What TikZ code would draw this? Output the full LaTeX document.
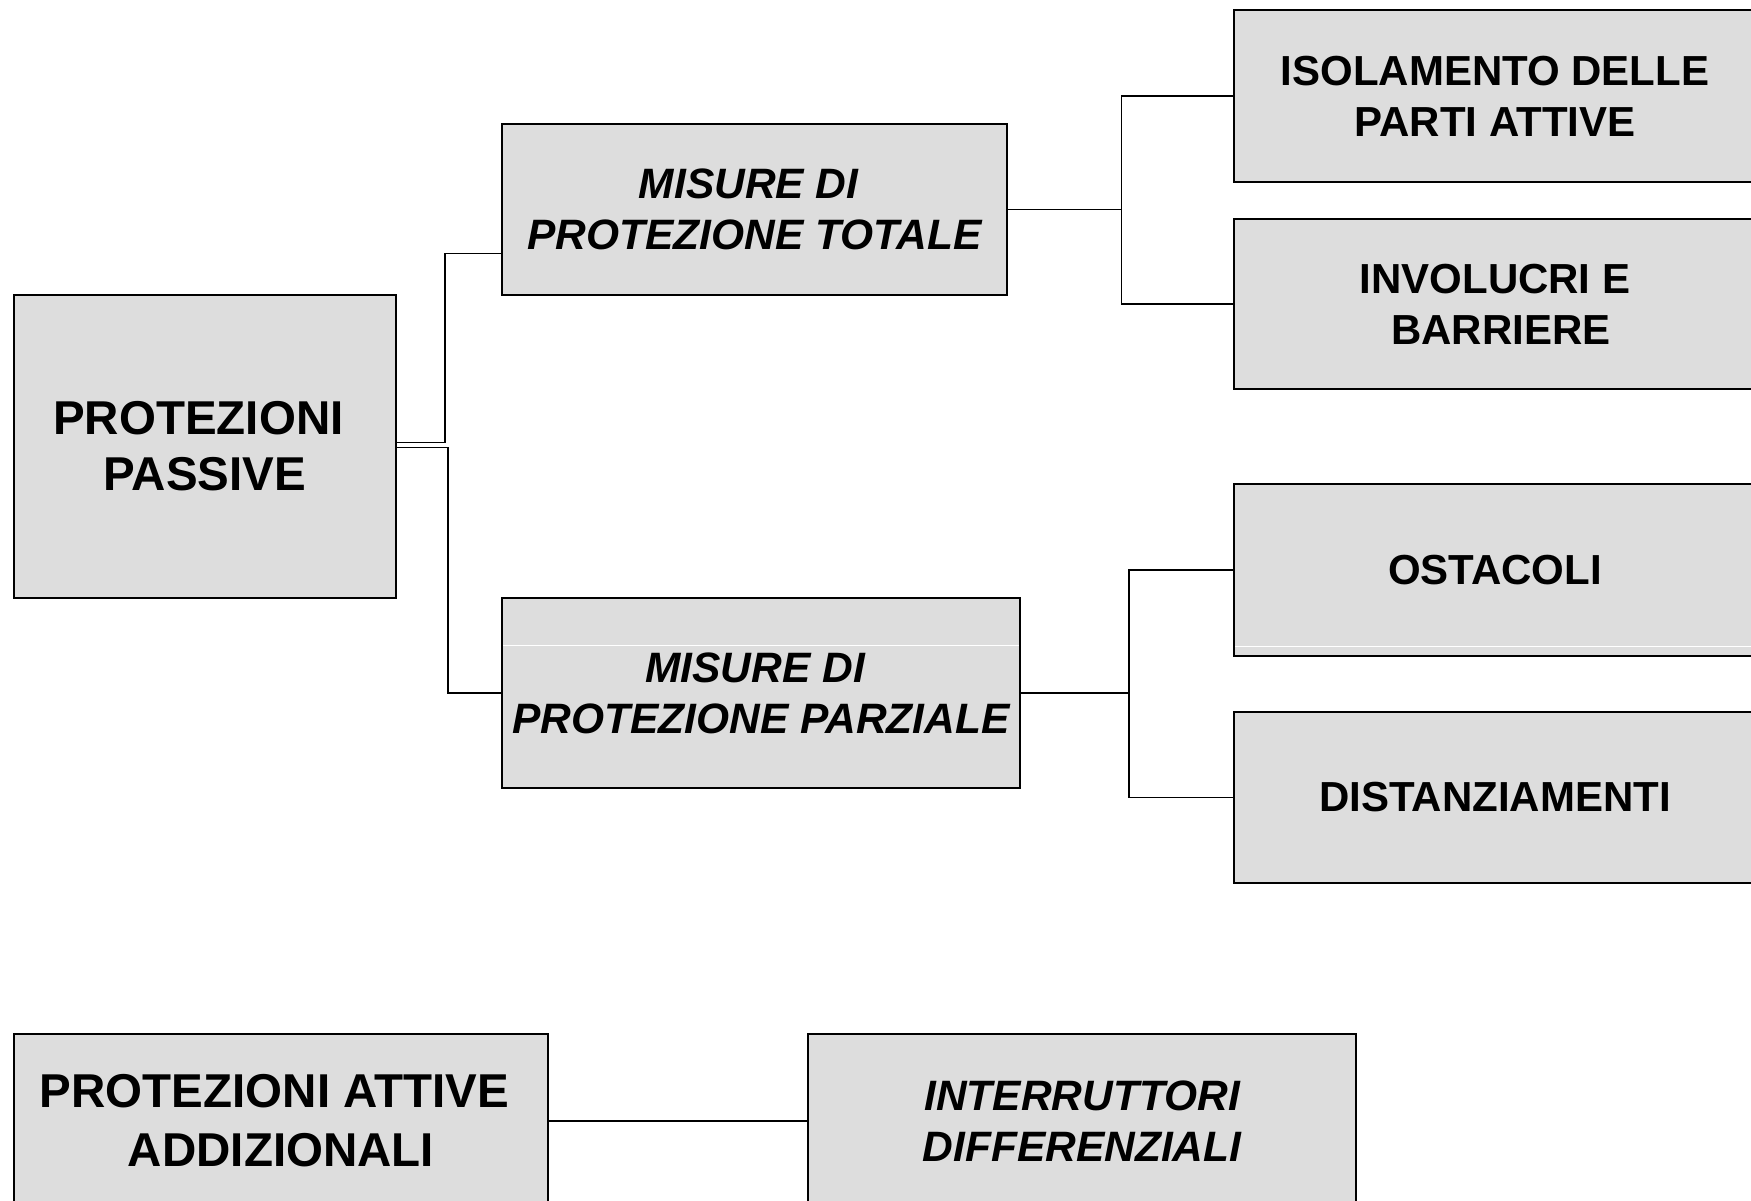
\documentclass[tikz,border=0pt]{standalone}
\usepackage{fontspec}
\setmainfont{Liberation Sans}
\usetikzlibrary{calc}
\definecolor{boxfill}{RGB}{221,221,221}
\newcommand{\tsp}{\hspace*{0.278em}}
\tikzset{
  box/.style={draw=black, line width=2pt, fill=boxfill, inner sep=0pt,
    anchor=north west, align=center, font=\bfseries},
  big/.style={font=\fontsize{47.5}{56}\selectfont\bfseries},
  mid/.style={font=\fontsize{42.5}{51}\selectfont\bfseries\itshape},
  leaf/.style={font=\fontsize{42}{51}\selectfont\bfseries},
  conn/.style={draw=black, line width=1.8pt},
  glint/.style={draw=white, line width=1pt}
}
\begin{document}
\begin{tikzpicture}[x=1pt,y=-1pt]
\useasboundingbox (0,0) rectangle (1751,1201);
\fill[white] (0,0) rectangle (1751,1201);
\clip (0,0) rectangle (1751,1201);

% nodes
\node[box, big, minimum width=382pt, minimum height=303pt] (pp) at (13,294) {PROTEZIONI\tsp\\PASSIVE};
\node[box, mid, minimum width=505pt, minimum height=171pt] (mt) at (501,123) {MISURE DI\tsp\\PROTEZIONE TOTALE};
\node[box, mid, minimum width=518pt, minimum height=190pt] (mp) at (501,597) {MISURE DI\tsp\\PROTEZIONE PARZIALE};
\node[box, leaf, minimum width=522pt, minimum height=172pt] (iso) at (1233,9) {ISOLAMENTO DELLE\\PARTI ATTIVE};
\node[box, leaf, minimum width=522pt, minimum height=170pt] (inv) at (1233,218) {INVOLUCRI E\\\tsp BARRIERE};
\node[box, leaf, minimum width=522pt, minimum height=172pt] (ost) at (1233,483) {OSTACOLI};
\node[box, leaf, minimum width=522pt, minimum height=171pt] (dis) at (1233,711) {DISTANZIAMENTI};
\node[box, font=\fontsize{47.5}{59}\selectfont\bfseries, minimum width=534pt, minimum height=174pt] (pa) at (13,1033) {PROTEZIONI ATTIVE\tsp\\ADDIZIONALI};
\node[box, mid, minimum width=548pt, minimum height=174pt] (id) at (807,1033) {INTERRUTTORI\\DIFFERENZIALI};

% faint white lines inside boxes
\draw[glint] ($(mp.west)+(2,-48)$) -- ($(mp.east)+(-2,-48)$);
\draw[glint] ($(ost.south west)+(2,-11)$) -- ($(ost.south east)+(-2,-11)$);

% connectors
\coordinate (j1) at ($(mt.east)+(113.5,0)$);
\coordinate (j2) at ($(mp.east)+(108,0)$);
\draw[conn] ($(pp.east)+(-2,-4)$) -| ($(mt.west)+(-56,44)$) -- ($(mt.west)+(0,44)$);
\draw[conn] ($(pp.east)+(0,1)$) -| ($(mp.west)+(-53,0)$) -- (mp.west);
\draw[conn] (mt.east) -- (j1);
\draw[conn] (iso.west) -| (j1) |- (inv.west);
\draw[conn] (mp.east) -- (j2);
\draw[conn] (ost.west) -| (j2) |- (dis.west);
\draw[conn] (pa.east) -- (id.west);
\end{tikzpicture}
\end{document}
